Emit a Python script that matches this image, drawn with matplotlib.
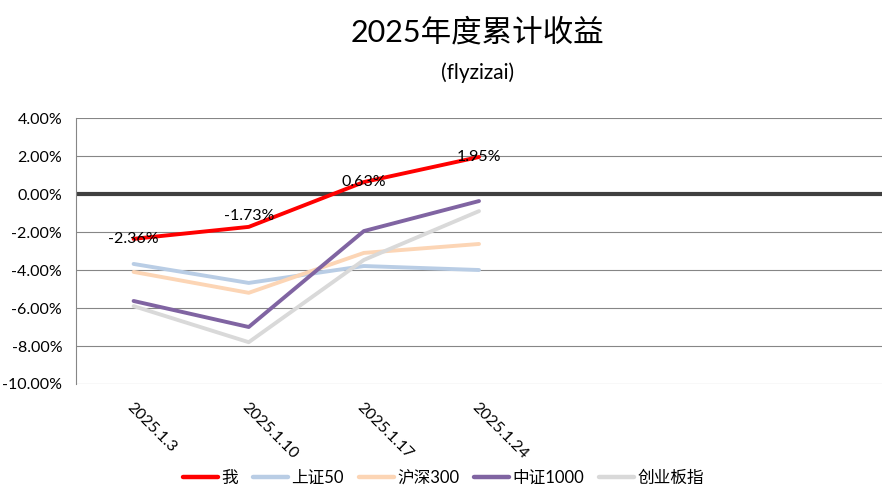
import numpy as np
import matplotlib.pyplot as plt
from matplotlib.ticker import FuncFormatter

plt.rcParams['font.family'] = ['Lato', 'Noto Sans CJK SC', 'DejaVu Sans']

# categories (last three slots are empty in the original sheet)
dates = ['2025.1.3', '2025.1.10', '2025.1.17', '2025.1.24', '', '', '']

me = [-2.36, -1.73, 0.63, 1.95]
sz50 = [-3.68, -4.68, -3.79, -4.00]
hs300 = [-4.10, -5.20, -3.10, -2.63]
zz1000 = [-5.63, -7.00, -1.95, -0.37]
cyb = [-5.90, -7.80, -3.47, -0.90]

series = [
    ('我', me, '#FF0000'),
    ('上证50', sz50, '#B9CDE5'),
    ('沪深300', hs300, '#FCD5B5'),
    ('中证1000', zz1000, '#8064A2'),
    ('创业板指', cyb, '#D9D9D9'),
]

fig = plt.figure(figsize=(8.85, 4.93), dpi=100)
ax = fig.add_axes([0.0859, 0.2211, 0.9107, 0.5395])

x = np.arange(len(dates))
for name, vals, col in series:
    ax.plot(x[:len(vals)], vals, color=col, linewidth=2.8, label=name,
            solid_capstyle='round', zorder=3)

# data labels for "我"
label_dy = [0, 8, 0, 0]
for i, v in enumerate(me):
    ax.annotate('%.2f%%' % v, (x[i], v), xytext=(0, label_dy[i]),
                textcoords='offset points', ha='center', va='center',
                fontsize=11.5, zorder=4)

ax.set_xlim(-0.5, len(dates) - 0.5)
ax.set_ylim(-10, 4)
ax.set_yticks(np.arange(-10, 4.1, 2))
ax.yaxis.set_major_formatter(FuncFormatter(lambda v, p: '%.2f%%' % v))
ax.grid(axis='y', color='#868686', linewidth=0.8, zorder=1)
ax.axhline(0, color='#404040', linewidth=3, zorder=2)

ax.set_xticks(x)
ax.set_xticklabels(dates, rotation=-45, ha='left', va='top',
                   rotation_mode='anchor', fontsize=11.5)
ax.tick_params(axis='x', length=0, pad=12)
ax.tick_params(axis='y', length=0, labelsize=11.5, pad=10)

for s in ['top', 'right', 'bottom']:
    ax.spines[s].set_visible(False)
ax.spines['left'].set_color('#868686')
ax.spines['left'].set_linewidth(0.8)

fig.text(0.54, 0.935, '2025年度累计收益', ha='center', va='center', fontsize=22)
fig.text(0.54, 0.852, '(flyzizai)', ha='center', va='center', fontsize=15)

fig.legend(loc='center', bbox_to_anchor=(0.501, 0.03), ncol=5, frameon=False,
           fontsize=12, handlelength=2.1, columnspacing=0.9, handletextpad=0.2)
for ln in fig.legends[0].get_lines():
    ln.set_linewidth(3.2)

fig.savefig('out.png', dpi=100)
